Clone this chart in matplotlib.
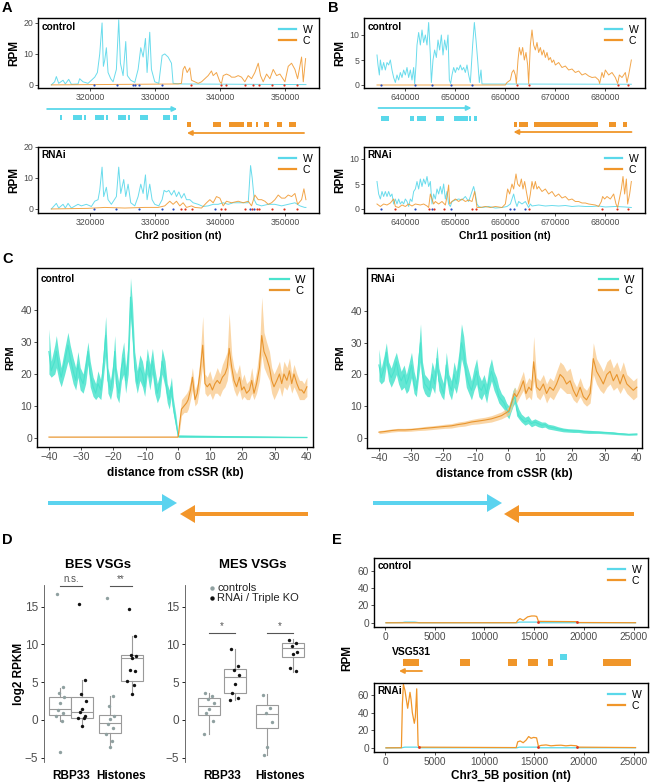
import numpy as np
import matplotlib
matplotlib.use('Agg')
import matplotlib.pyplot as plt
from matplotlib.patches import FancyArrow

plt.rcParams['font.family'] = ['Liberation Sans', 'DejaVu Sans']

W_COL = '#5ad8ea'
C_COL = '#f0962a'
W_BAND = '#4ae3cd'
C_LINE = '#e8952e'
C_BAND = '#f9c98a'
TICK_COL = '#4d4d4d'

# ---------------- panel A : Chr2 (kb, RPM) ----------------
A_CTRL_W = [(314.05, 0), (314.56, 1), (314.82, 2.7), (315.18, 0.5), (315.85, 1.5), (316.20, 0.3),
            (316.72, 1.8), (317.13, 0.2), (318.15, 0.3), (318.41, 2), (318.92, 1), (319.69, 0.5),
            (320.21, 1.5), (320.72, 2.5), (321.13, 4), (321.49, 10), (321.85, 20), (322.05, 6),
            (322.26, 8), (322.51, 12), (322.77, 4), (323.18, 2), (323.54, 1), (324.05, 5),
            (324.41, 21), (324.67, 7), (325.08, 3), (325.49, 14), (325.74, 3), (326.26, 1.5),
            (326.88, 0.8), (327.39, 5), (327.80, 12), (328.16, 9), (328.52, 15), (328.77, 4),
            (329.18, 17), (329.44, 5), (329.95, 1), (330.57, 0.5), (331.08, 9.5), (331.49, 10),
            (332.00, 9), (332.52, 7), (332.77, 0.5), (334.05, 0.3), (353.19, 0.1)]
A_CTRL_C = [(314.05, 0), (333.54, 0.3), (334.05, 0.5), (334.31, 5), (334.57, 6), (334.93, 4),
            (335.34, 5.5), (335.60, 1.5), (336.11, 1), (336.62, 0.5), (337.14, 1), (337.65, 2),
            (338.16, 3), (338.67, 4.5), (338.93, 3), (339.44, 4), (339.96, 1), (340.21, 0.5),
            (340.47, 3), (340.98, 3.5), (341.50, 3), (341.75, 2.5), (342.27, 2.5), (342.78, 3),
            (343.29, 2.5), (343.80, 1), (344.32, 3), (344.83, 2), (345.34, 4), (345.86, 7),
            (346.21, 3), (346.62, 1), (347.14, 3.5), (347.65, 2), (348.16, 5), (348.68, 3),
            (349.19, 3.5), (349.96, 1), (350.47, 6), (350.98, 7), (351.50, 5), (351.91, 2),
            (352.52, 9), (352.78, 1), (353.14, 8.5)]
A_RNAI_W = [(314.05, 0), (314.82, 1.8), (315.18, 0.3), (315.85, 1.5), (316.20, 0.3), (316.62, 1.8),
            (317.13, 0.3), (318.15, 1.5), (318.67, 1), (319.44, 1.5), (320.21, 0.8), (320.72, 2.5),
            (321.23, 3), (321.49, 6), (321.85, 13.5), (322.10, 4), (322.51, 7), (322.77, 3),
            (323.28, 1.5), (324.05, 4), (324.41, 13.5), (324.72, 5), (325.18, 9.5), (325.49, 4),
            (325.85, 8), (326.26, 2), (326.88, 1), (327.39, 4), (327.80, 8), (328.16, 5),
            (328.52, 11), (328.77, 3), (329.18, 8), (329.54, 3), (329.95, 1.5), (330.57, 1),
            (331.08, 3), (331.39, 6), (331.75, 5.5), (332.11, 6), (332.52, 4.5), (332.93, 6),
            (333.29, 4), (333.65, 5.5), (334.05, 3.5), (334.46, 5), (334.83, 3), (335.34, 3),
            (335.85, 2), (336.62, 1.5), (337.39, 0.8), (338.16, 1), (338.93, 1.5), (339.70, 1.5),
            (340.47, 2), (341.24, 1.5), (342.01, 2), (342.78, 2), (343.55, 2), (344.32, 2),
            (344.68, 14), (344.93, 10), (345.24, 3), (345.60, 1.5), (346.37, 1), (347.39, 1.5),
            (348.42, 1.5), (349.45, 1), (350.47, 1.5), (351.50, 2), (352.27, 1), (352.99, 0.5),
            (353.19, 0.5)]
A_RNAI_C = [(314.05, 0), (319.69, 0.2), (322.26, 0.5), (325.34, 0.3), (328.41, 0.5), (330.47, 0.5),
            (331.49, 1), (332.26, 2.5), (332.77, 1.5), (333.29, 2.5), (333.80, 1), (334.31, 2),
            (334.83, 0.5), (335.60, 1), (336.11, 0.5), (337.14, 0.3), (337.91, 2), (338.42, 3),
            (338.93, 2), (339.44, 4), (339.96, 3.5), (340.47, 1), (340.98, 2.5), (341.75, 2),
            (342.78, 2.5), (343.55, 2), (344.32, 2.5), (344.83, 1), (345.34, 4.5), (345.86, 3),
            (346.37, 3), (346.88, 2.5), (347.39, 1.5), (347.91, 2), (348.42, 3), (348.93, 4.5),
            (349.45, 3.5), (349.96, 3.5), (350.47, 4.5), (350.98, 4), (351.50, 5), (351.91, 1.5),
            (352.52, 3), (352.88, 6.5), (353.19, 3)]
A_CTRL_BLUE = [320.62, 324.16, 326.62, 326.88, 327.49, 331.08]
A_CTRL_RED = [335.50, 340.11, 340.83, 343.80, 345.08, 346.01, 347.91, 349.86, 351.76]
A_RNAI_BLUE = [320.62, 324.05, 327.49, 331.08, 332.77, 339.19, 344.62, 345.24]
A_RNAI_RED = [334.05, 334.57, 335.60, 340.11, 340.73, 343.80, 344.93, 345.60, 346.01, 347.91,
              349.86, 351.76]
A_W_GENES = [(315.38, 315.74), (317.33, 318.72), (319.13, 319.38), (320.77, 322.15), (322.46, 322.72),
             (324.26, 325.54), (325.90, 326.15), (327.69, 328.97), (331.18, 332.31), (332.82, 333.33)]
A_C_GENES = [(334.87, 335.49), (338.97, 340.10), (341.44, 343.69), (344.10, 344.97), (345.54, 345.80),
             (346.77, 347.54), (348.72, 349.49), (350.62, 351.69)]
A_W_ARROW = (313.4, 333.4)
A_C_ARROW = (352.9, 334.9)

# ---------------- panel B : Chr11 (kb, RPM) ----------------
B_CTRL_W = [(634.40, 6), (634.60, 4), (634.87, 2), (635.07, 5), (635.40, 3), (635.73, 4.5), (636.07, 3),
            (636.40, 4.5), (636.73, 4), (637.07, 5), (637.40, 3), (637.73, 1.5), (638.07, 0.5),
            (638.40, 2), (638.73, 1), (639.07, 2.5), (639.40, 1.5), (639.73, 3), (640.07, 2),
            (640.40, 3.5), (640.73, 1.5), (641.07, 3), (641.40, 1), (641.73, 3.5), (641.93, 0.2),
            (642.20, 4), (642.40, 8), (642.73, 10.5), (643.07, 8), (643.40, 11), (643.73, 8.5),
            (644.07, 10), (644.40, 8), (644.73, 12.5), (645.07, 6), (645.27, 0.5), (645.60, 5),
            (645.93, 7), (646.27, 5.5), (646.60, 9), (646.93, 7), (647.27, 10), (647.60, 6),
            (647.93, 9), (648.27, 7), (648.60, 10), (648.87, 1), (649.13, 0.3), (649.40, 2),
            (649.73, 3.5), (650.07, 2.5), (650.40, 3.5), (650.73, 3), (651.07, 4), (651.40, 3),
            (651.73, 3.5), (652.07, 2.5), (652.40, 4), (652.73, 2), (653.07, 0.5), (653.53, 8),
            (653.87, 12.5), (654.20, 9), (654.53, 5), (654.87, 0.5), (655.20, 3), (655.40, 0.2),
            (685.27, 0.15)]
B_CTRL_C = [(634.40, 0), (660.07, 0), (660.40, 0.5), (661.07, 1), (661.40, 2.5), (661.73, 3),
            (662.07, 2), (662.27, 0.3), (662.60, 5), (662.87, 7.5), (663.20, 6), (663.53, 7.5),
            (663.87, 5), (664.20, 6.5), (664.53, 4), (664.73, 0.3), (665.07, 8), (665.40, 11),
            (665.73, 8), (666.07, 7), (666.40, 8.5), (666.73, 6.5), (667.07, 7.5), (667.40, 6),
            (667.73, 7), (668.07, 5.5), (668.40, 6.5), (668.73, 5), (669.07, 5.5), (669.40, 4.5),
            (669.73, 5), (670.07, 4), (670.73, 4.5), (671.40, 3.5), (672.07, 3.8), (672.73, 3),
            (673.40, 3.2), (674.07, 2.5), (674.73, 2.8), (675.40, 2), (676.07, 2.3), (676.73, 1.8),
            (677.40, 1.5), (678.07, 1.6), (678.73, 1), (678.93, 0.3), (679.40, 2.5), (679.73, 1.5),
            (680.07, 3), (680.73, 2), (681.40, 2.5), (682.07, 1.5), (682.53, 0.3), (682.87, 2),
            (683.40, 1.5), (684.07, 2.5), (684.40, 0.5), (684.73, 2), (685.27, 5)]
B_RNAI_W = [(634.40, 5.5), (634.73, 3), (635.07, 2), (635.40, 3.5), (635.73, 2.5), (636.07, 3.5),
            (636.40, 2.5), (636.73, 3.5), (637.07, 2.5), (637.40, 3), (637.73, 1), (638.07, 2),
            (638.40, 1), (638.73, 2), (639.07, 1), (639.40, 1.5), (639.73, 1), (640.07, 2),
            (640.40, 1.5), (640.73, 0.5), (641.07, 2), (641.40, 1.5), (641.73, 3.5), (642.07, 4),
            (642.40, 5.5), (642.73, 4), (643.07, 6), (643.40, 4.5), (643.73, 6), (644.07, 5),
            (644.40, 6.5), (644.73, 4.5), (645.07, 5.5), (645.40, 1), (645.73, 3), (646.07, 2),
            (646.40, 4), (646.73, 3), (647.07, 4.5), (647.40, 3), (647.73, 5), (648.07, 2),
            (648.40, 3.5), (648.73, 1), (649.07, 0.5), (649.40, 1.5), (650.07, 1.8), (650.73, 2),
            (651.40, 1.8), (652.07, 2.5), (652.73, 1.5), (653.40, 3.5), (653.73, 4.5), (654.07, 3),
            (654.40, 1), (654.73, 0.5), (655.40, 0.3), (656.73, 0.5), (658.07, 0.2), (659.40, 0.3),
            (660.40, 0.5), (661.07, 1), (661.40, 2), (661.73, 3), (662.07, 1.5), (662.40, 0.5),
            (662.73, 1.5), (663.40, 1), (664.07, 1.5), (664.73, 0.3), (665.07, 1), (665.40, 0.6),
            (666.73, 0.8), (668.07, 0.6), (669.40, 0.7), (670.73, 0.6), (672.07, 0.7), (673.40, 0.5),
            (674.73, 0.6), (676.07, 0.5), (677.40, 0.5), (678.73, 0.6), (680.07, 0.4), (682.07, 0.5),
            (684.07, 0.4), (685.27, 0.3)]
B_RNAI_C = [(634.40, 1), (635.07, 0.5), (635.73, 1), (636.40, 0.8), (637.07, 1.2), (637.73, 2),
            (638.07, 0.5), (638.73, 0.3), (639.40, 0.8), (640.07, 0.5), (640.73, 1), (641.40, 0.6),
            (642.07, 1), (643.07, 0.8), (643.73, 1), (644.40, 0.6), (644.73, 0.3), (645.07, 3),
            (645.40, 2), (645.73, 1), (646.07, 1.5), (646.73, 1), (647.40, 1.5), (648.07, 0.8),
            (648.40, 2.5), (648.73, 4.8), (648.93, 1), (649.40, 1.5), (650.07, 2), (650.73, 1.5),
            (651.40, 2), (652.07, 1.5), (652.73, 1.8), (653.40, 1.5), (653.93, 3.5), (654.40, 0.3),
            (655.07, 0.3), (656.07, 0.5), (657.07, 0.3), (658.07, 0.5), (659.40, 0.3), (660.07, 1),
            (660.53, 4), (660.93, 3), (661.40, 5), (661.73, 4), (662.20, 7), (662.53, 5),
            (662.93, 4.5), (663.27, 6), (663.60, 4), (663.93, 5.5), (664.27, 3.5), (664.73, 1),
            (665.07, 3), (665.40, 5.5), (665.73, 4), (666.07, 5.5), (666.40, 4), (666.73, 4.5),
            (667.40, 3.5), (668.07, 4), (668.73, 3), (669.40, 3.5), (670.07, 2.5), (670.73, 3),
            (671.40, 2.2), (672.07, 2.5), (672.73, 1.8), (673.40, 2), (674.07, 1.5), (674.73, 1.5),
            (675.40, 1.2), (676.07, 1.2), (676.73, 1), (677.40, 0.9), (678.07, 0.8), (678.73, 0.5),
            (679.27, 1.5), (679.53, 2.5), (679.93, 2), (680.40, 2.5), (681.07, 2), (681.73, 3),
            (682.20, 1), (682.53, 0.3), (682.87, 2), (683.27, 4), (683.60, 6.5), (683.93, 3),
            (684.27, 6), (684.53, 1), (684.93, 3), (685.27, 5.5)]
B_CTRL_BLUE = [635.20, 642.07, 645.40, 649.20, 653.40]
B_CTRL_RED = [662.40, 664.73, 682.60, 684.53]
B_RNAI_BLUE = [635.20, 642.07, 645.40, 649.20, 661.07, 661.73, 664.07]
B_RNAI_RED = [637.93, 644.73, 645.73, 647.73, 653.40, 654.20, 664.73, 679.40, 682.40, 684.53]
B_W_GENES = [(635.2, 636.8), (641.0, 641.7), (642.3, 644.1), (646.1, 647.8), (649.7, 652.5),
             (652.8, 653.1), (653.8, 654.3)]
B_C_GENES = [(661.7, 662.3), (662.8, 664.5), (665.7, 678.5), (680.7, 682.2), (683.5, 684.4)]
B_W_ARROW = (634.7, 653.3)
B_C_ARROW = (685.3, 661.7)

# ---------------- panel C : metaplots (kb, mean, low, high) ----------------
C_CTRL_W = [(-40.0, 27, 20, 34), (-39.3, 21, 19, 24), (-38.2, 24, 20, 29), (-37.7, 27, 22, 32),
            (-36.9, 22, 18, 26), (-36.2, 19, 16, 22), (-35.1, 24, 20, 28), (-34.1, 29, 24, 33),
            (-33.4, 25, 21, 29), (-32.5, 21, 17, 25), (-31.7, 18, 15, 22), (-31.0, 23, 19, 27),
            (-30.3, 19, 15, 22), (-29.4, 17, 14, 20), (-28.6, 21, 17, 25), (-27.9, 27, 23, 30),
            (-27.2, 20, 16, 24), (-26.3, 16, 13, 19), (-25.5, 14, 12, 17), (-24.8, 17, 13, 21),
            (-23.9, 15, 12, 18), (-23.2, 22, 18, 26), (-22.4, 32, 26, 38), (-21.7, 18, 14, 22),
            (-20.9, 15, 12, 18), (-20.1, 20, 16, 24), (-19.6, 27, 22, 32), (-19.1, 17, 13, 22),
            (-18.3, 14, 11, 17), (-17.5, 22, 18, 26), (-16.8, 25, 20, 30), (-16.2, 18, 14, 22),
            (-15.4, 25, 20, 30), (-14.7, 44, 38, 50), (-14.1, 35, 30, 42), (-13.4, 22, 18, 27),
            (-12.6, 17, 14, 21), (-11.8, 22, 18, 26), (-11.0, 20, 16, 24), (-10.3, 16, 13, 20),
            (-9.5, 24, 20, 28), (-8.7, 19, 15, 23), (-7.9, 24, 20, 28), (-7.2, 18, 14, 22),
            (-6.4, 14, 11, 17), (-5.6, 17, 13, 20), (-4.9, 24, 20, 28), (-4.0, 20, 16, 24),
            (-3.3, 14, 11, 17), (-2.7, 12, 9, 15), (-2.0, 16, 13, 19), (-1.5, 10, 8, 13),
            (-0.6, 5, 3, 7), (0.1, 0.5, 0.2, 1), (40.0, 0.2, 0.1, 0.4)]
C_CTRL_C = [(-40.0, 0.3, 0.2, 0.4), (0.0, 0.3, 0.2, 0.4), (0.1, 0.5, 0.2, 1), (0.6, 5, 3, 7),
            (1.1, 9, 7, 12), (1.9, 10, 8, 13), (2.7, 11, 8, 14), (3.2, 12, 9, 15), (3.9, 15, 12, 18),
            (4.5, 19, 15, 22), (5.3, 12, 10, 15), (6.0, 14, 11, 17), (6.8, 20, 16, 24),
            (7.7, 29, 23, 38), (8.4, 17, 14, 20), (9.1, 16, 13, 19), (9.9, 17, 14, 21),
            (10.7, 15, 12, 18), (11.5, 17, 14, 20), (12.2, 18, 14, 22), (13.0, 17, 13, 20),
            (13.8, 19, 15, 23), (14.6, 20, 16, 25), (15.3, 22, 18, 27), (15.9, 28, 23, 39),
            (16.7, 22, 18, 26), (17.4, 18, 15, 22), (18.2, 16, 13, 20), (19.1, 19, 15, 23),
            (19.8, 15, 12, 18), (20.5, 16, 13, 20), (21.3, 14, 12, 17), (22.2, 15, 12, 18),
            (22.9, 18, 14, 22), (23.6, 14, 12, 17), (24.4, 17, 14, 21), (25.3, 22, 18, 28),
            (26.0, 32, 26, 44), (26.7, 27, 22, 33), (27.5, 25, 20, 30), (28.4, 22, 18, 27),
            (29.1, 18, 14, 22), (29.8, 16, 12, 20), (30.7, 18, 14, 22), (31.5, 20, 16, 24),
            (32.2, 17, 13, 20), (32.9, 20, 16, 24), (33.8, 18, 15, 22), (34.6, 21, 17, 25),
            (35.3, 17, 14, 20), (36.0, 20, 16, 23), (36.9, 17, 14, 20), (37.7, 15, 12, 18),
            (38.4, 15, 12, 18), (39.1, 14, 12, 17), (40.0, 16, 13, 19)]
C_RNAI_W = [(-40.0, 23, 18, 28), (-39.3, 19, 17, 22), (-38.4, 22, 18, 26), (-37.7, 27, 23, 30),
            (-37.0, 21, 18, 24), (-36.2, 19, 16, 22), (-35.3, 21, 18, 25), (-34.6, 24, 20, 27),
            (-33.9, 20, 17, 24), (-33.1, 18, 15, 21), (-32.2, 20, 16, 23), (-31.5, 17, 14, 20),
            (-30.8, 19, 15, 23), (-29.9, 23, 19, 27), (-29.1, 17, 14, 21), (-28.4, 15, 13, 18),
            (-27.6, 25, 20, 29), (-27.1, 30, 24, 36), (-26.5, 20, 16, 24), (-25.8, 17, 14, 20),
            (-25.0, 16, 13, 19), (-24.3, 15, 13, 18), (-23.5, 20, 16, 24), (-22.7, 17, 14, 21),
            (-22.0, 25, 21, 29), (-21.4, 18, 15, 22), (-20.6, 16, 13, 19), (-19.9, 14, 12, 17),
            (-19.1, 23, 19, 27), (-18.3, 17, 14, 20), (-17.5, 15, 12, 18), (-16.7, 20, 16, 24),
            (-16.0, 17, 14, 21), (-15.2, 22, 18, 27), (-14.4, 30, 25, 36), (-13.7, 27, 22, 32),
            (-12.9, 20, 16, 24), (-12.1, 17, 14, 21), (-11.3, 15, 12, 18), (-10.5, 18, 15, 22),
            (-9.7, 21, 17, 25), (-9.0, 16, 13, 20), (-8.2, 15, 12, 18), (-7.4, 17, 14, 20),
            (-6.6, 14, 11, 17), (-5.9, 18, 15, 22), (-5.1, 21, 18, 25), (-4.3, 18, 15, 21),
            (-3.5, 16, 13, 19), (-2.8, 13, 11, 16), (-2.0, 12, 10, 14), (-1.2, 11, 9, 13),
            (-0.4, 9, 7, 11), (0.3, 8, 6, 10), (0.9, 10, 8, 12), (1.6, 12, 10, 15),
            (2.2, 13, 11, 16), (2.7, 9, 7, 11), (3.4, 7, 6, 9), (4.2, 6, 5, 7.5), (5.3, 5, 4, 6.5),
            (6.3, 5.5, 4.5, 7), (7.3, 4.5, 3.5, 5.5), (8.4, 5, 4, 6), (9.4, 4.5, 3.5, 5.5),
            (10.5, 4, 3.2, 5), (11.5, 4.2, 3.4, 5), (12.5, 3.5, 2.8, 4.3), (14.1, 3.2, 2.5, 4),
            (15.6, 2.8, 2.2, 3.5), (17.2, 2.5, 1.9, 3.1), (18.7, 2.3, 1.8, 2.9), (20.3, 2.2, 1.7, 2.8),
            (21.9, 2.2, 1.7, 2.7), (23.4, 2.0, 1.5, 2.5), (25.0, 1.9, 1.4, 2.4), (26.5, 1.8, 1.4, 2.3),
            (28.1, 1.8, 1.4, 2.2), (29.6, 1.7, 1.3, 2.1), (31.2, 1.6, 1.2, 2.0), (32.7, 1.5, 1.1, 1.9),
            (34.3, 1.3, 1.0, 1.7), (35.8, 1.2, 0.9, 1.6), (37.4, 1.1, 0.8, 1.4), (40.0, 1.2, 0.9, 1.5)]
C_RNAI_C = [(-40.0, 1.8, 1.3, 2.3), (-38.2, 2.0, 1.5, 2.5), (-36.2, 2.3, 1.8, 2.8), (-34.1, 2.5, 2.0, 3.0),
            (-32.0, 2.5, 2.0, 3.0), (-30.0, 2.6, 2.1, 3.1), (-27.9, 2.8, 2.3, 3.3), (-25.8, 3.0, 2.4, 3.6),
            (-23.7, 3.2, 2.6, 3.8), (-21.7, 3.4, 2.8, 4.0), (-19.6, 3.6, 3.0, 4.3), (-17.5, 3.8, 3.1, 4.5),
            (-15.4, 4.2, 3.5, 5.0), (-13.4, 4.5, 3.7, 5.3), (-11.3, 5.0, 4.2, 5.8), (-9.2, 5.3, 4.4, 6.2),
            (-7.2, 5.6, 4.7, 6.5), (-5.1, 6.0, 5.0, 7.0), (-3.5, 6.5, 5.5, 7.6), (-2.0, 7.0, 6.0, 8.2),
            (-0.4, 8.0, 6.8, 9.3), (0.3, 8.5, 7.2, 10), (1.1, 11, 9, 13), (2.0, 14, 12, 16),
            (2.7, 13, 11, 15), (3.7, 15, 13, 18), (4.8, 18, 15, 21), (5.6, 14, 12, 17),
            (6.5, 16, 13, 19), (7.3, 15, 12, 18), (8.0, 24, 18, 32), (8.9, 16, 13, 19),
            (9.9, 15, 12, 18), (11.0, 17, 14, 20), (12.0, 14, 11, 17), (13.0, 16, 13, 19),
            (14.1, 15, 12, 18), (15.1, 17, 14, 21), (16.2, 20, 16, 24), (17.2, 19, 15, 23),
            (18.2, 17, 14, 21), (19.3, 18, 14, 22), (20.3, 15, 12, 18), (21.3, 13, 11, 16),
            (22.4, 16, 13, 19), (23.4, 13, 11, 16), (24.4, 12, 10, 15), (25.5, 14, 11, 17),
            (26.5, 25, 20, 30), (27.5, 21, 17, 25), (28.6, 19, 15, 23), (29.6, 17, 14, 21),
            (30.7, 20, 16, 24), (31.7, 21, 17, 25), (32.7, 18, 15, 22), (33.8, 20, 16, 24),
            (34.8, 17, 14, 21), (35.8, 20, 16, 24), (36.9, 17, 14, 20), (37.9, 16, 13, 19),
            (38.9, 15, 12, 18), (40.0, 16, 13, 19)]

# ---------------- panel D : log2 RPKM ----------------
D_GROUPS = ['RBP33', 'Histones']
# box stats: (whisker low, q1, median, q3, whisker high)
BES_CTRL_BOX = [(-0.2, 0.6, 1.4, 3.0, 4.2), (-3.7, -1.7, -0.4, 0.6, 3.2)]
BES_RNAI_BOX = [(-0.9, 0.3, 1.0, 3.0, 5.3), (3.5, 5.2, 8.2, 8.6, 11.1)]
MES_CTRL_BOX = [(-1.8, 0.7, 1.9, 2.9, 3.6), (-4.6, -1.1, 0.8, 2.0, 3.4)]
MES_RNAI_BOX = [(2.7, 3.6, 5.7, 6.7, 9.4), (6.4, 8.3, 9.5, 10.2, 10.7)]
BES_CTRL_PTS = [[16.7, 4.3, 3.6, 3.1, 2.2, 1.3, 0.9, 0.5, -0.2, -4.2],
                [16.2, 3.2, 1.8, 0.5, 0.1, -0.5, -1.0, -1.8, -2.8, -3.6]]
BES_RNAI_PTS = [[15.3, 5.3, 3.4, 2.5, 1.5, 1.0, 0.5, 0.3, 0.2, -0.8],
                [14.7, 11.1, 8.6, 8.4, 8.2, 6.6, 6.5, 5.2, 4.6, 3.5]]
MES_CTRL_PTS = [[3.6, 3.2, 2.8, 2.2, 1.4, 0.9, -0.2, -1.8],
                [3.3, 1.6, 0.9, -0.3, -3.6, -4.6]]
MES_RNAI_PTS = [[9.4, 7.1, 6.6, 5.9, 4.8, 3.6, 2.9, 2.7],
                [10.6, 10.2, 9.8, 9.0, 8.7, 6.9, 6.5]]
BES_SIG = ['n.s.', '**']
MES_SIG = ['*', '*']

# ---------------- panel E : Chr3_5B (nt, RPM) ----------------
E_CTRL_W = [(100, 0.3), (1780, 0.5), (2000, 1), (3000, 1), (3420, 0.3), (13300, 0.3), (13500, 1),
            (15300, 1), (15500, 0.3), (25200, 0.3)]
E_CTRL_C = [(100, 0.2), (13200, 0.3), (13350, 3), (13580, 5), (13900, 3), (14350, 7), (14750, 8),
            (15050, 8), (15260, 7.5), (15430, 2), (15700, 1.8), (19280, 1.5), (19450, 0.5),
            (25200, 0.3)]
E_RNAI_W = [(100, 0.2), (1700, 0.3), (2000, 1), (3200, 1), (3420, 0.3), (13300, 0.3), (13500, 1),
            (15300, 1), (15500, 0.3), (25200, 0.3)]
E_RNAI_C = [(100, 0.2), (1650, 0.3), (1750, 50), (1850, 72), (2010, 65), (2280, 45), (2515, 63),
            (2620, 55), (2750, 40), (2950, 28), (3050, 35), (3190, 67), (3330, 3), (3420, 1),
            (13200, 0.5), (13350, 7), (13600, 8), (13900, 6), (14200, 9), (14450, 13), (14700, 11),
            (14950, 12), (15250, 11.5), (15430, 2), (15700, 3), (16200, 3.5), (16700, 2.5),
            (17200, 3), (17700, 3.2), (18200, 2.5), (18700, 3), (19280, 2.5), (19450, 1),
            (25200, 0.5)]
E_CTRL_RED = [15430, 19280]
E_RNAI_RED = [3420, 15430, 19280]
E_C_GENES = [(1780, 3420), (7550, 8560), (12370, 13280), (14390, 15400), (16400, 16900),
             (21930, 24750)]
E_W_GENES = [(17600, 18300)]
E_C_ARROW = (3720, 1410)

W, H = 652, 782
fig = plt.figure(figsize=(W / 100, H / 100), dpi=100)


def px_axes(x0, y0, x1, y1):
    return fig.add_axes([x0 / W, 1 - y1 / H, (x1 - x0) / W, (y1 - y0) / H])


def style(ax, size=6.3):
    for s in ax.spines.values():
        s.set_linewidth(1.0)
    ax.tick_params(length=2, width=0.6, labelsize=size, labelcolor=TICK_COL, pad=1.5, color='#333333')


def legend(ax, size=7.5):
    leg = ax.legend(loc='upper right', frameon=False, fontsize=size, handlelength=1.7, handletextpad=0.6,
                    labelspacing=0.1, borderaxespad=0.25)
    for ln in leg.get_lines():
        ln.set_linewidth(1.6)
        ln.set_alpha(1)


def trace_panel(box, xlim, ylim, yticks, xticks, tag, w_pts, c_pts, blue, red, xfmt):
    ax = px_axes(*box)
    wx, wy = np.array(w_pts).T
    cx, cy = np.array(c_pts).T
    ax.plot(wx, wy, color=W_COL, lw=0.7, alpha=0.9, label='W')
    ax.plot(cx, cy, color=C_COL, lw=0.7, alpha=0.85, label='C')
    ax.scatter(blue, np.zeros(len(blue)), s=2.5, color='#2c4fc4', zorder=3, lw=0)
    ax.scatter(red, np.zeros(len(red)), s=2.5, color='#e0351f', zorder=3, lw=0)
    ax.set_xlim(xlim)
    ax.set_ylim(ylim)
    ax.set_yticks(yticks)
    ax.set_xticks(xticks)
    ax.set_xticklabels([xfmt(v) for v in xticks])
    style(ax)
    ax.text(0.012, 0.95, tag, transform=ax.transAxes, fontsize=7.3, fontweight='bold', va='top')
    legend(ax, 7.5)
    return ax


def gene_track(box, xlim, rows, w_genes, c_genes, w_arrow, c_arrow):
    ax = px_axes(*box)
    ax.set_xlim(xlim)
    ax.set_ylim(box[3], box[1])
    ax.axis('off')
    ya, yw, yc, yb = rows
    ax.annotate('', xy=(w_arrow[1], ya), xytext=(w_arrow[0], ya),
                arrowprops=dict(arrowstyle='-|>', color=W_COL, lw=1.3, mutation_scale=7, shrinkA=0, shrinkB=0))
    ax.annotate('', xy=(c_arrow[1], yb), xytext=(c_arrow[0], yb),
                arrowprops=dict(arrowstyle='-|>', color=C_COL, lw=1.3, mutation_scale=7, shrinkA=0, shrinkB=0))
    ax.broken_barh([(s, e - s) for s, e in w_genes], (yw - 2.5, 5), color=W_COL, lw=0)
    ax.broken_barh([(s, e - s) for s, e in c_genes], (yc - 2.5, 5), color=C_COL, lw=0)
    return ax


kfmt = lambda v: '%d' % int(round(v * 1000))

# ---- A ----
trace_panel((38, 18, 319, 88), (312.0, 355.2), (-1.0, 21.6), [0, 10, 20], [320, 330, 340, 350],
            'control', A_CTRL_W, A_CTRL_C, A_CTRL_BLUE, A_CTRL_RED, kfmt).set_ylabel(
    'RPM', fontsize=8.5, fontweight='bold', labelpad=2)
gene_track((38, 100, 319, 140), (312.0, 355.2), (109, 117, 124, 133), A_W_GENES, A_C_GENES, A_W_ARROW, A_C_ARROW)
ax = trace_panel((38, 147, 319, 213), (312.0, 355.2), (-1.3, 20.0), [0, 10, 20], [320, 330, 340, 350],
                 'RNAi', A_RNAI_W, A_RNAI_C, A_RNAI_BLUE, A_RNAI_RED, kfmt)
ax.set_ylabel('RPM', fontsize=8.5, fontweight='bold', labelpad=2)
ax.set_xlabel('Chr2 position (nt)', fontsize=7.5, fontweight='bold', labelpad=3)

# ---- B ----
trace_panel((364, 18, 645, 88), (631.8, 688.0), (-0.6, 13.4), [0, 5, 10], [640, 650, 660, 670, 680],
            'control', B_CTRL_W, B_CTRL_C, B_CTRL_BLUE, B_CTRL_RED, kfmt).set_ylabel(
    'RPM', fontsize=8.5, fontweight='bold', labelpad=2)
gene_track((364, 100, 645, 140), (631.8, 688.0), (108, 118, 124, 132), B_W_GENES, B_C_GENES, B_W_ARROW, B_C_ARROW)
ax = trace_panel((364, 147, 645, 213), (631.8, 688.0), (-0.8, 12.4), [0, 5, 10], [640, 650, 660, 670, 680],
                 'RNAi', B_RNAI_W, B_RNAI_C, B_RNAI_BLUE, B_RNAI_RED, kfmt)
ax.set_ylabel('RPM', fontsize=8.5, fontweight='bold', labelpad=2)
ax.set_xlabel('Chr11 position (nt)', fontsize=7.5, fontweight='bold', labelpad=3)


# ---- C ----
def meta_panel(box, ylim, tag, w_rows, c_rows, xlim):
    ax = px_axes(*box)
    wx, wm, wl, wh = np.array(w_rows).T
    cx, cm, cl, ch = np.array(c_rows).T
    ax.fill_between(wx, wl, wh, color=W_BAND, alpha=0.85, lw=0)
    ax.plot(wx, wm, color=W_BAND, lw=0.8, label='W')
    ax.fill_between(cx, cl, ch, color=C_BAND, alpha=0.75, lw=0)
    ax.plot(cx, cm, color=C_LINE, lw=0.8, label='C')
    ax.set_xlim(xlim)
    ax.set_ylim(ylim)
    ax.set_xticks(np.arange(-40, 41, 10))
    ax.set_yticks([0, 10, 20, 30, 40])
    style(ax, 7.5)
    ax.text(0.012, 0.965, tag, transform=ax.transAxes, fontsize=7.3, fontweight='bold', va='top')
    legend(ax, 8)
    ax.set_xlabel('distance from cSSR (kb)', fontsize=8.5, fontweight='bold', labelpad=4)
    ax.set_ylabel('RPM', fontsize=8, fontweight='bold', labelpad=4)
    return ax


meta_panel((37, 268, 313, 447), (-2.8, 53.1), 'control', C_CTRL_W, C_CTRL_C, (-43.7, 41.9))
meta_panel((367, 268, 642, 448), (-3.2, 53.6), 'RNAi', C_RNAI_W, C_RNAI_C, (-43.7, 41.6))


# ---- D ----
def box_panel(box, xlim, width, ctrl_box, rnai_box, ctrl_pts, rnai_pts, sig, sig_y, title):
    ax = px_axes(*box)
    offs = 0.22
    jit = [-0.07, 0.05, -0.02, 0.08, 0.0, -0.05, 0.06, -0.09, 0.03, -0.01]
    for g in range(len(D_GROUPS)):
        for st, pts, col, sgn in [(ctrl_box[g], ctrl_pts[g], '#8fa0a0', -1),
                                  (rnai_box[g], rnai_pts[g], '#111111', 1)]:
            pos = g + sgn * offs
            stats = [dict(whislo=st[0], q1=st[1], med=st[2], q3=st[3], whishi=st[4], fliers=[])]
            ax.bxp(stats, positions=[pos], widths=width, showcaps=False, showfliers=False, patch_artist=True,
                   boxprops=dict(facecolor='white', edgecolor='#9a9a9a', lw=0.8),
                   medianprops=dict(color='#9a9a9a', lw=0.8),
                   whiskerprops=dict(color='#9a9a9a', lw=0.8))
            ax.scatter([pos + jit[i % len(jit)] for i in range(len(pts))], pts, s=6, color=col, lw=0, zorder=3)
        ax.plot([g - offs, g + offs], [sig_y, sig_y], color='#555555', lw=0.8, clip_on=False)
        ax.text(g, sig_y + 0.3, sig[g], ha='center', va='bottom', fontsize=7, color='#555555')
    ax.set_xlim(xlim)
    ax.set_ylim(-5.56, 17.86)
    ax.set_yticks([-5, 0, 5, 10, 15])
    ax.set_xticks(range(len(D_GROUPS)))
    ax.set_xticklabels(D_GROUPS, fontsize=8.5, fontweight='bold')
    for s in ['top', 'right', 'bottom']:
        ax.spines[s].set_visible(False)
    ax.spines['left'].set_linewidth(0.6)
    ax.spines['left'].set_color('#555555')
    ax.tick_params(axis='y', length=2.5, width=0.6, labelsize=8.5, labelcolor=TICK_COL, pad=1.5)
    ax.tick_params(axis='x', length=0, pad=6)
    ax.set_title(title, fontsize=9.5, fontweight='bold', pad=12)
    return ax


ax = box_panel((44, 585, 152, 762), (-0.54, 1.62), 0.43, BES_CTRL_BOX, BES_RNAI_BOX, BES_CTRL_PTS,
               BES_RNAI_PTS, BES_SIG, 17.7, 'BES VSGs')
ax.set_ylabel('log2 RPKM', fontsize=8.5, fontweight='bold', labelpad=0)
box_panel((185, 585, 320, 762), (-0.64, 1.69), 0.38, MES_CTRL_BOX, MES_RNAI_BOX, MES_CTRL_PTS,
          MES_RNAI_PTS, MES_SIG, 11.5, 'MES VSGs')


# ---- E ----
def e_panel(box, ylim, tag, w_pts, c_pts, red):
    ax = px_axes(*box)
    wx, wy = np.array(w_pts).T
    cx, cy = np.array(c_pts).T
    ax.plot(wx, wy, color=W_COL, lw=0.9, label='W')
    ax.plot(cx, cy, color=C_COL, lw=0.9, label='C')
    ax.scatter(red, np.full(len(red), 1.5), s=4, color='#e0351f', zorder=3, lw=0)
    ax.set_xlim(-1107, 26458)
    ax.set_ylim(ylim)
    ax.set_yticks([0, 20, 40, 60])
    ax.set_xticks(np.arange(0, 25001, 5000))
    style(ax, 7.3)
    ax.text(0.012, 0.95, tag, transform=ax.transAxes, fontsize=7.3, fontweight='bold', va='top')
    legend(ax, 7.5)
    return ax


e_panel((374, 558, 648, 627), (-4.6, 74.3), 'control', E_CTRL_W, E_CTRL_C, E_CTRL_RED)
ax = e_panel((374, 683, 648, 752), (-4.5, 73.6), 'RNAi', E_RNAI_W, E_RNAI_C, E_RNAI_RED)
ax.set_xlabel('Chr3_5B position (nt)', fontsize=8.5, fontweight='bold', labelpad=2)

ax = px_axes(374, 630, 648, 680)
ax.set_xlim(-1107, 26458)
ax.set_ylim(680, 630)
ax.axis('off')
ax.broken_barh([(s, e - s) for s, e in E_C_GENES], (658.5, 7), color=C_COL, lw=0)
ax.broken_barh([(s, e - s) for s, e in E_W_GENES], (653.5, 6), color=W_COL, lw=0)
ax.annotate('', xy=(E_C_ARROW[1], 671), xytext=(E_C_ARROW[0], 671),
            arrowprops=dict(arrowstyle='-|>', color=C_COL, lw=1.3, mutation_scale=7, shrinkA=0, shrinkB=0))

# ---- overlay: labels and schematic arrows ----
ov = fig.add_axes([0, 0, 1, 1], zorder=10)
ov.set_xlim(0, W)
ov.set_ylim(H, 0)
ov.axis('off')
for lab, x, y in [('A', 2, 8), ('B', 328, 8), ('C', 2, 259), ('D', 2, 540), ('E', 332, 540)]:
    ov.text(x, y, lab, fontsize=10.5, fontweight='bold', va='center', ha='left')
for x0, x1 in [(48, 177), (373, 502)]:
    ov.add_patch(FancyArrow(x0, 503, x1 - x0, 0, width=4, head_width=18, head_length=15,
                            length_includes_head=True, color='#5bd3ef', lw=0))
for x0, x1 in [(308, 180), (634, 504)]:
    ov.add_patch(FancyArrow(x0, 514, x1 - x0, 0, width=4, head_width=18, head_length=15,
                            length_includes_head=True, color='#f3962a', lw=0))
ov.scatter([212], [588], s=10, color='#8fa0a0', lw=0)
ov.scatter([212], [598], s=10, color='#111111', lw=0)
ov.text(217, 588, 'controls', fontsize=8, va='center', color='#222222')
ov.text(217, 598, 'RNAi / Triple KO', fontsize=8, va='center', color='#222222')
ov.text(411, 652, 'VSG531', fontsize=7.5, fontweight='bold', ha='center', va='center')
ov.text(347, 658, 'RPM', fontsize=8.5, fontweight='bold', ha='center', va='center', rotation=90)

fig.savefig('out.png', dpi=100)
